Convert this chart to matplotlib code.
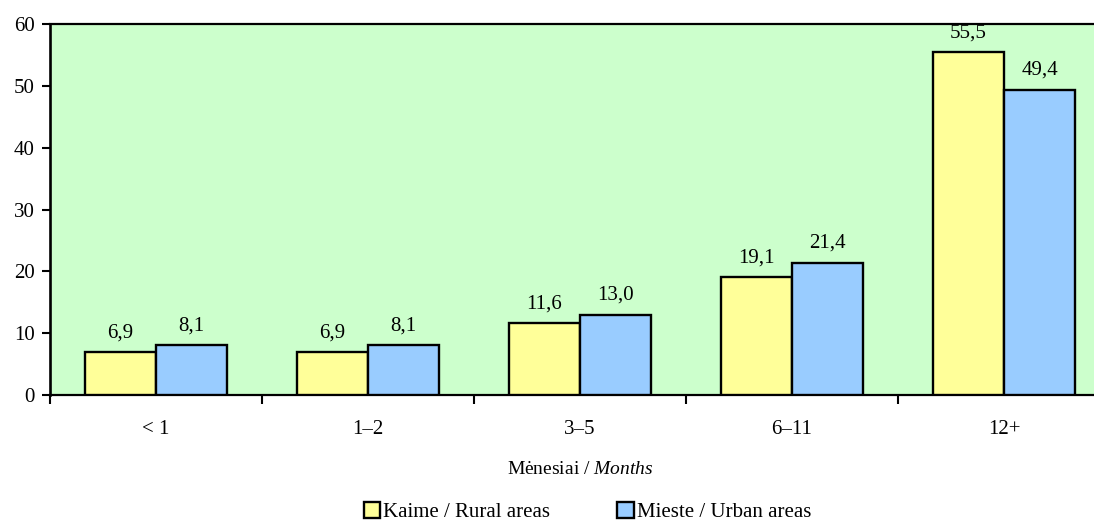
import numpy as np
import matplotlib
matplotlib.use('Agg')
import matplotlib.pyplot as plt
from matplotlib.patches import Patch

plt.rcParams['font.family'] = ['Liberation Serif', 'DejaVu Serif']
plt.rcParams['mathtext.fontset'] = 'custom'
plt.rcParams['mathtext.rm'] = 'Liberation Serif'
plt.rcParams['mathtext.it'] = 'Liberation Serif:italic'

categories = ['< 1', '1–2', '3–5', '6–11', '12+']
rural = [6.9, 6.9, 11.6, 19.1, 55.5]
urban = [8.1, 8.1, 13.0, 21.4, 49.4]
rural_label = 'Kaime / Rural areas'
urban_label = 'Mieste / Urban areas'

fig = plt.figure(figsize=(10.94, 5.26), dpi=100)
# plot area runs a little past the right edge of the picture, as in the original
ax = fig.add_axes([0.0457, 0.249, 0.969, 0.705])
ax.set_facecolor('#CCFFCC')

x = np.arange(len(categories))
w = 0.335
b1 = ax.bar(x - w / 2, rural, w, color='#FFFF99', edgecolor='black', linewidth=1.7, zorder=3)
b2 = ax.bar(x + w / 2, urban, w, color='#99CCFF', edgecolor='black', linewidth=1.7, zorder=3)

for bars, vals in ((b1, rural), (b2, urban)):
    for r, v in zip(bars, vals):
        ax.annotate(('%.1f' % v).replace('.', ','), (r.get_x() + r.get_width() / 2, v),
                    xytext=(0, 7), textcoords='offset points',
                    ha='center', va='bottom', fontsize=15)

ax.set_xlim(-0.5, len(categories) - 0.5)
ax.set_ylim(0, 60)
ax.set_yticks(range(0, 61, 10))
ax.tick_params(axis='y', direction='out', length=6, width=1.5, labelsize=15, pad=5)

# category labels centered, tick marks between categories
ax.set_xticks(np.arange(-0.5, len(categories)), minor=False)
ax.set_xticklabels([])
ax.set_xticks(x, minor=True)
ax.set_xticklabels(categories, minor=True, fontsize=15)
ax.tick_params(axis='x', which='major', direction='out', length=6.5, width=1.5)
ax.tick_params(axis='x', which='minor', length=0, pad=18)

for s in ax.spines.values():
    s.set_linewidth(1.6)
ax.spines['left'].set_linewidth(1.9)

ax.set_xlabel('Mėnesiai / $\\it{Months}$', fontsize=14, labelpad=16)

handles = [Patch(facecolor='#FFFF99', edgecolor='black', linewidth=1.7, label=rural_label),
           Patch(facecolor='#99CCFF', edgecolor='black', linewidth=1.7, label=urban_label)]
fig.legend(handles=handles, loc='center', bbox_to_anchor=(0.537, 0.026), ncol=2,
           frameon=False, fontsize=15, handlelength=0.8, handleheight=0.8,
           handletextpad=0.15, columnspacing=3.2, borderpad=0)

fig.savefig('out.png', dpi=100)
